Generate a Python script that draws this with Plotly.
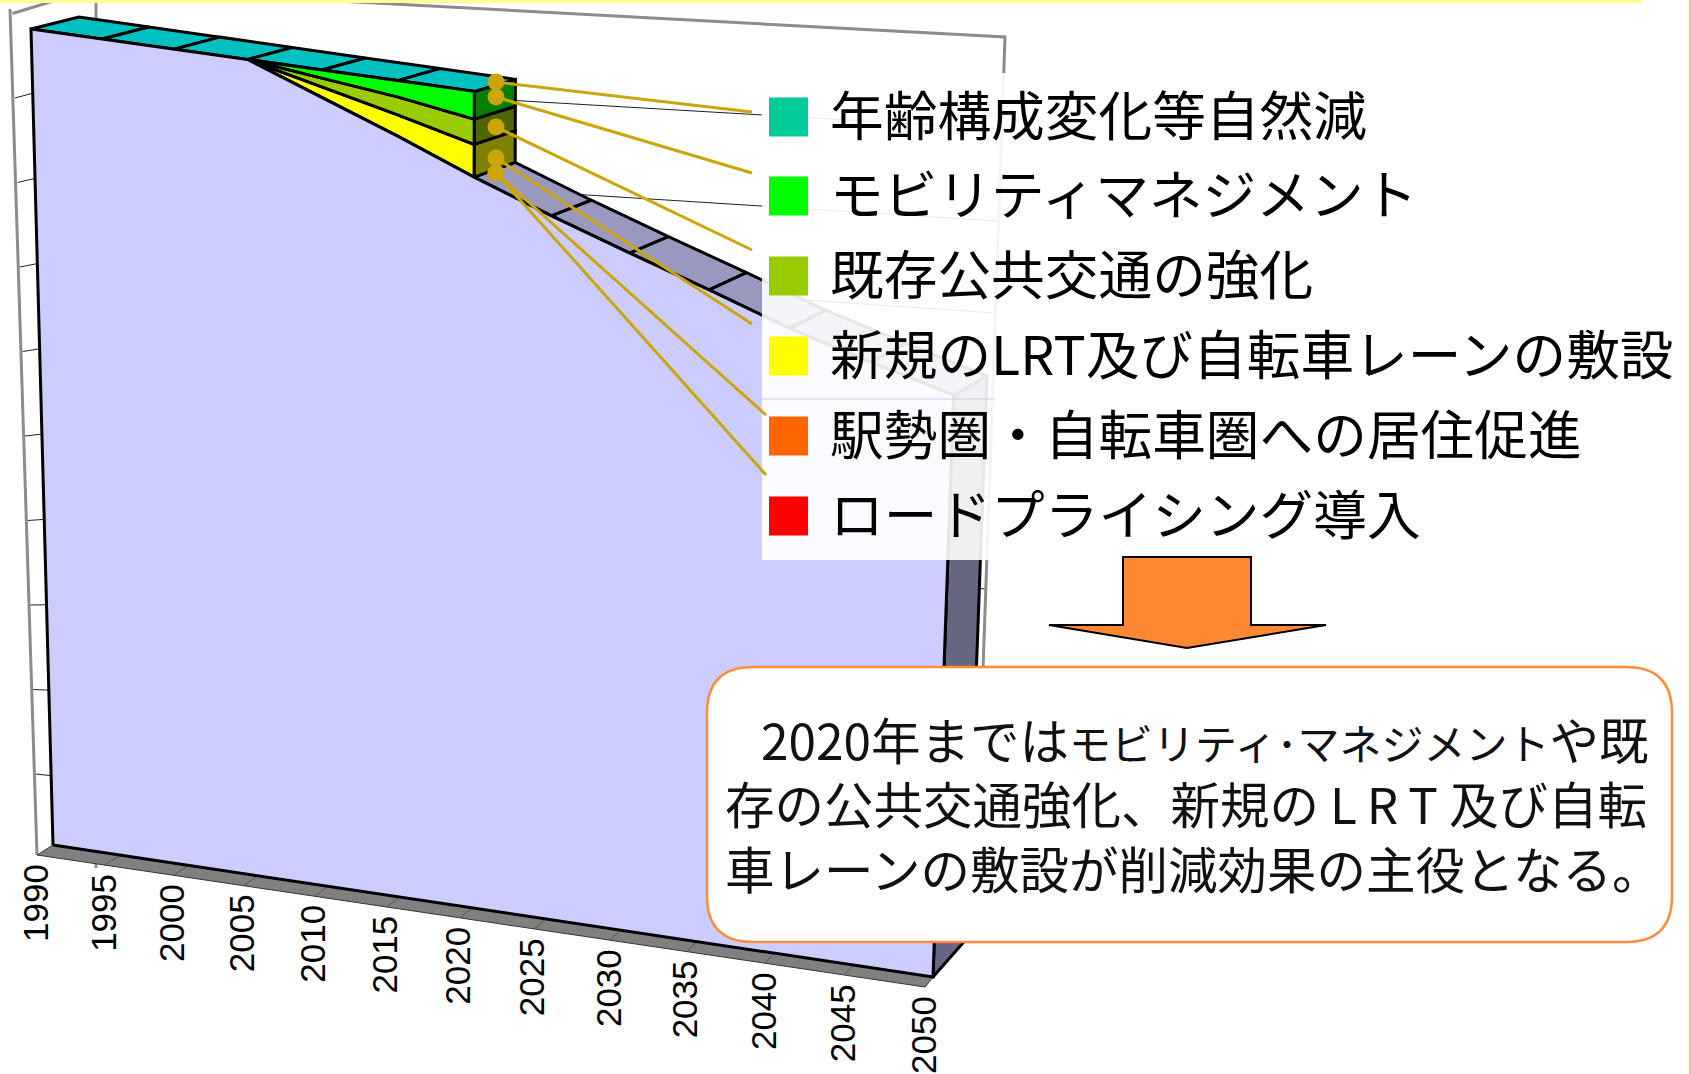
import plotly.graph_objects as go

# ---- data (index, 1990 = 100) ----
years = [1990, 1995, 2000, 2005, 2010, 2015, 2020, 2025, 2030, 2035, 2040, 2045, 2050]
base_level = [100, 100, 100, 100, 96.6, 93.2, 89.5, 86.1, 82.9, 79.8, 76.5, 73.8, 71.2]
new_lrt = [0, 0, 0, 0, 1.3, 2.6, 4.0]
existing_transit = [0, 0, 0, 0, 1.1, 2.2, 3.1]
mobility_mgmt = [0, 0, 0, 0, 1.0, 2.0, 3.4]
grid_values = [90, 80, 70, 60, 50, 40, 30, 20, 10]

legend_labels = ["年齢構成変化等自然減", "モビリティマネジメント", "既存公共交通の強化",
                 "新規のLRT及び自転車レーンの敷設", "駅勢圏・自転車圏への居住促進", "ロードプライシング導入"]
legend_colors = ["#00CC99", "#00FF00", "#99CC00", "#FFFF00", "#FF6600", "#FF0000"]
callout_text = ('<span style="font-size:36px">\u3000</span>2020年までは'
                '<span style="font-size:42px">モビリティ･マネジメント</span>や既<br>'
                '存の公共交通強化、新規の L\u2009R\u2009T 及び自転<br>'
                '車レーンの敷設が削減効果の主役となる。')

# ---- pseudo-3D projection (data -> page pixels) ----
K = 1.10
F00, F10, F01, F11 = (53, 845), (933, 977), (31, 29), (962, 160)
FLOOR0, FLOOR1 = (37, 855), (925, 987)

def lerp(a, b, s):
    return (a[0] + (b[0] - a[0]) * s, a[1] + (b[1] - a[1]) * s)

def uof(year):
    t = (year - 1990) / 60
    return t / (t + K * (1 - t))

def front(year, val):
    u = uof(year)
    return lerp(lerp(F00, F10, u), lerp(F01, F11, u), val / 100)

def back(year, val):
    u = uof(year)
    p = front(year, val)
    return (p[0] + 48 - 14.5 * u, p[1] - (12 + 26 * (1 - val / 100)))

def floor_front(year):
    return lerp(FLOOR0, FLOOR1, uof(year))

fig = go.Figure()

def poly(pts, fill=None, line="black", width=3):
    xs = [p[0] for p in pts]
    ys = [p[1] for p in pts]
    if fill:
        xs.append(xs[0]); ys.append(ys[0])
    fig.add_trace(go.Scatter(x=xs, y=ys, mode="lines", fill="toself" if fill else None,
                             fillcolor=fill, line=dict(color=line, width=width),
                             hoverinfo="skip", showlegend=False))

# ---- walls ----
def wall_left(v):
    return (12.5 + 25 * (1 - v / 100), 13.5 + 845 * (1 - v / 100))
def wall_back_left(v):
    return (96, -12 + 880 * (1 - v / 100))
def wall_back_right(v):
    return (1005 - 32 * (1 - v / 100), 37 + 920 * (1 - v / 100))

for v in grid_values:
    poly([wall_left(v), wall_back_left(v), wall_back_right(v)], line="#222222", width=1)
GRAY = "#8C8C8C"
poly([wall_left(100), wall_back_left(100), wall_back_right(100), wall_back_right(5)], line=GRAY, width=3)
poly([(10, 9), (37, 855)], line=GRAY, width=3)
poly([wall_back_left(100), wall_back_left(0)], line=GRAY, width=3)

# ---- floor ----
poly([floor_front(years[0]), floor_front(years[-1]), front(years[-1], 0), front(years[0], 0)],
     fill="#808080", line="#333333", width=1)
for y in years[1:-1]:
    poly([floor_front(y), front(y, 0)], line="#555555", width=1)

# ---- series faces ----
idx2020 = years.index(2020)
last = years[-1]
poly([front(last, base_level[-1]), front(last, 0), back(last, 0), back(last, base_level[-1])],
     fill="#666680")
for i in range(idx2020, len(years) - 1):
    a, b = years[i], years[i + 1]
    poly([front(a, base_level[i]), front(b, base_level[i + 1]),
          back(b, base_level[i + 1]), back(a, base_level[i])], fill="#9999C0")

layers = [(new_lrt, "#FFFF00", "#808000"),
          (existing_transit, "#99CC00", "#4F6600"),
          (mobility_mgmt, "#00FF00", "#008000")]
lower = base_level[:idx2020 + 1]
stack = []
for values, col, side in layers:
    upper = [a + b for a, b in zip(lower, values)]
    stack.append((list(lower), upper, col, side))
    lower = upper
for lo, up, col, side in stack:
    poly([front(2020, lo[-1]), front(2020, up[-1]), back(2020, up[-1]), back(2020, lo[-1])], fill=side)
top = lower
for i in range(idx2020):
    a, b = years[i], years[i + 1]
    poly([front(a, top[i]), front(b, top[i + 1]), back(b, top[i + 1]), back(a, top[i])], fill="#00C0C0")
for lo, up, col, side in stack:
    sub = years[3:idx2020 + 1]
    pts = [front(y, up[years.index(y)]) for y in sub] + [front(y, lo[years.index(y)]) for y in reversed(sub)]
    poly(pts, fill=col)
poly([front(years[0], 0)] + [front(y, b) for y, b in zip(years, base_level)] + [front(last, 0)],
     fill="#CCCCFF")

# ---- legend backdrop ----
poly([(762, 73), (1682, 73), (1682, 560), (762, 560)], fill="rgba(255,255,255,0.9)", line="rgba(0,0,0,0)", width=0)
poly([(762, 399), (995, 399)], line="#CFCBEF", width=1)

# ---- leader lines ----
GOLD = "#CCA50A"
leader_from = [(496, 82), (496, 97), (496, 127), (496, 158), (496, 173), (496, 173)]
leader_to = [(752, 112), (752, 173), (752, 250), (752, 324), (766, 415), (766, 475)]
for a, b in zip(leader_from, leader_to):
    poly([a, b], line=GOLD, width=3)
fig.add_trace(go.Scatter(x=[p[0] for p in leader_from], y=[p[1] for p in leader_from], mode="markers",
                         marker=dict(size=17, color=GOLD), hoverinfo="skip", showlegend=False))

# ---- legend ----
shapes = []
annotations = []
row_centers = [117, 196, 276, 356, 436, 516]
for c, lab, yc in zip(legend_colors, legend_labels, row_centers):
    shapes.append(dict(type="rect", x0=769, x1=808, y0=yc - 19.5, y1=yc + 19.5, fillcolor=c,
                       line=dict(width=0), layer="above"))
    annotations.append(dict(x=828, y=yc - 5, text=lab, xref="x", yref="y", xanchor="left", yanchor="middle",
                            showarrow=False, font=dict(family="Noto Sans CJK JP", size=53.7, color="black")))

# ---- arrow + callout ----
shapes.append(dict(type="path", path="M1123,557 L1251,557 L1251,625 L1326,625 L1187,648 L1049,625 L1123,625 Z",
                   fillcolor="#FF8833", line=dict(color="black", width=2), layer="above"))
L, R, T, B, r = 707, 1672, 667, 942, 46
shapes.append(dict(type="path",
                   path=f"M{L+r},{T} L{R-r},{T} Q{R},{T} {R},{T+r} L{R},{B-r} Q{R},{B} {R-r},{B} "
                        f"L{L+r},{B} Q{L},{B} {L},{B-r} L{L},{T+r} Q{L},{T} {L+r},{T} Z",
                   fillcolor="white", line=dict(color="#FF8C3A", width=2.5), layer="above"))
annotations.append(dict(x=723, y=803, text=callout_text, xref="x", yref="y", xanchor="left", yanchor="middle",
                        align="left", showarrow=False,
                        font=dict(family="Noto Sans CJK JP", size=49.5, color="#111111")))

# ---- year labels ----
for y in years:
    p = floor_front(y)
    annotations.append(dict(x=p[0] - 2, y=p[1] + 48, text=str(y), xref="x", yref="y", textangle=-90,
                            xanchor="center", yanchor="middle", showarrow=False,
                            font=dict(family="Liberation Sans", size=35, color="black")))

# ---- page edge bands ----
shapes.append(dict(type="rect", x0=0, x1=1642, y0=0, y1=3, fillcolor="#FFFF99", line=dict(width=0), layer="above"))
shapes.append(dict(type="rect", x0=1689, x1=1692, y0=0, y1=1074, fillcolor="#FFBBAA", line=dict(width=0), layer="above"))

fig.update_layout(width=1692, height=1074, margin=dict(l=0, r=0, t=0, b=0), autosize=False,
                  paper_bgcolor="white", plot_bgcolor="white", showlegend=False,
                  shapes=shapes, annotations=annotations,
                  xaxis=dict(range=[0, 1692], visible=False, fixedrange=True),
                  yaxis=dict(range=[1074, 0], visible=False, fixedrange=True))
fig.write_html("out.html", config=dict(displayModeBar=False),
               post_script="document.body.style.margin='0';document.body.style.overflow='hidden';")
